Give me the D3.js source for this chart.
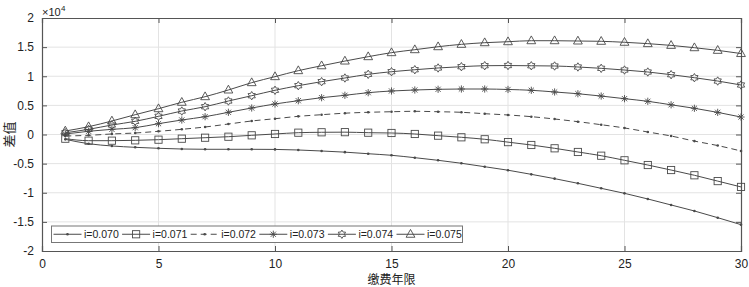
<!DOCTYPE html>
<html><head><meta charset="utf-8">
<script src="https://cdn.jsdelivr.net/npm/d3@7"></script>
<style>body{margin:0;background:#fff;} svg{display:block;}</style>
</head><body><svg id="c" width="749" height="287"></svg>
<script>
// Data (values in units of 10^4)
const years = d3.range(1, 31);
const s070 = [-0.083,-0.158,-0.197,-0.220,-0.237,-0.249,-0.254,-0.254,-0.254,-0.256,-0.266,-0.283,-0.303,-0.330,-0.357,-0.398,-0.443,-0.494,-0.553,-0.613,-0.684,-0.758,-0.838,-0.924,-1.010,-1.107,-1.210,-1.313,-1.428,-1.548];
const s071 = [-0.072,-0.106,-0.106,-0.100,-0.089,-0.072,-0.055,-0.038,-0.014,0.009,0.031,0.038,0.040,0.031,0.026,0.009,-0.020,-0.048,-0.082,-0.131,-0.180,-0.237,-0.300,-0.364,-0.443,-0.524,-0.610,-0.700,-0.800,-0.900];
const s072 = [-0.026,-0.014,0.009,0.026,0.055,0.089,0.129,0.180,0.232,0.271,0.312,0.340,0.366,0.381,0.391,0.398,0.391,0.381,0.357,0.335,0.306,0.266,0.220,0.168,0.112,0.043,-0.026,-0.113,-0.190,-0.283];
const s073 = [0.009,0.055,0.089,0.117,0.186,0.249,0.306,0.381,0.455,0.524,0.580,0.632,0.673,0.718,0.747,0.764,0.776,0.781,0.781,0.773,0.759,0.730,0.700,0.660,0.615,0.570,0.510,0.450,0.380,0.300];
const s074 = [0.030,0.089,0.163,0.226,0.312,0.403,0.477,0.575,0.666,0.759,0.838,0.907,0.970,1.033,1.078,1.112,1.142,1.164,1.181,1.184,1.180,1.176,1.159,1.136,1.107,1.073,1.027,0.975,0.918,0.850];
const s075 = [0.060,0.134,0.232,0.340,0.443,0.553,0.649,0.764,0.890,0.993,1.096,1.180,1.261,1.336,1.405,1.456,1.507,1.548,1.576,1.593,1.610,1.610,1.605,1.600,1.583,1.560,1.530,1.490,1.445,1.390];
const seriesNames = ["i=0.070","i=0.071","i=0.072","i=0.073","i=0.074","i=0.075"];
const seriesData = [s070, s071, s072, s073, s074, s075];
const markers = ["dot","square","dot","asterisk","hexagram","triangle"];
const dashes = [null, null, "6,4", null, null, null];
const xTicks = [0,5,10,15,20,25,30];
const yTicks = [-2,-1.5,-1,-0.5,0,0.5,1,1.5,2];

const svg = d3.select("#c");
const L = 42, R = 741, T = 18, B = 251;
const x = d3.scaleLinear().domain([0,30]).range([L,R]);
const y = d3.scaleLinear().domain([-2,2]).range([B,T]);
const col = "#4a4a4a";
const axisCol = "#555";
const font = "'Liberation Sans', Arial, sans-serif";

// grid
const g = svg.append("g");
g.selectAll(".gx").data(xTicks.slice(1,-1)).join("line")
  .attr("x1",d=>x(d)).attr("x2",d=>x(d)).attr("y1",T).attr("y2",B)
  .attr("stroke","#e3e3e3").attr("stroke-width",1);
g.selectAll(".gy").data(yTicks.slice(1,-1)).join("line")
  .attr("y1",d=>y(d)).attr("y2",d=>y(d)).attr("x1",L).attr("x2",R)
  .attr("stroke","#e3e3e3").attr("stroke-width",1);

// axes
const xa = svg.append("g").attr("transform",`translate(0,${B})`)
  .call(d3.axisBottom(x).tickValues(xTicks).tickSize(-5).tickPadding(8).tickFormat(d3.format("d")));
const xa2 = svg.append("g").attr("transform",`translate(0,${T})`)
  .call(d3.axisTop(x).tickValues(xTicks).tickSize(-5).tickFormat(""));
const ya = svg.append("g").attr("transform",`translate(${L},0)`)
  .call(d3.axisLeft(y).tickValues(yTicks).tickSize(-5).tickPadding(8).tickFormat(d=>d===0?"0":String(d)));
const ya2 = svg.append("g").attr("transform",`translate(${R},0)`)
  .call(d3.axisRight(y).tickValues(yTicks).tickSize(-5).tickFormat(""));
[xa,xa2,ya,ya2].forEach(a=>{
  a.selectAll("path").attr("stroke",axisCol).attr("stroke-width",1.2);
  a.selectAll("line").attr("stroke",axisCol);
  a.selectAll("text").attr("fill","#222").style("font-family",font).style("font-size","12px");
});

// symbols
function drawMarker(sel, type, cx, cy){
  const m = sel.append("g").attr("transform",`translate(${cx},${cy})`);
  if(type==="dot"){
    m.append("circle").attr("r",1.3).attr("fill",col);
  } else if(type==="square"){
    m.append("rect").attr("x",-3.6).attr("y",-3.6).attr("width",7.2).attr("height",7.2)
      .attr("fill","none").attr("stroke",col).attr("stroke-width",0.9);
  } else if(type==="asterisk"){
    const r=3.6, r2=2.6;
    m.append("path").attr("d",`M${-r},0L${r},0M0,${-r}L0,${r}M${-r2},${-r2}L${r2},${r2}M${-r2},${r2}L${r2},${-r2}`)
      .attr("stroke",col).attr("stroke-width",0.9);
  } else if(type==="hexagram"){
    const pts=[];
    for(let k=0;k<12;k++){const a=Math.PI/6*k - Math.PI/2; const rr = k%2===0?4.2:2.5; pts.push([rr*Math.cos(a), rr*Math.sin(a)]);}
    m.append("path").attr("d","M"+pts.map(p=>p.join(",")).join("L")+"Z")
      .attr("fill","none").attr("stroke",col).attr("stroke-width",0.9);
  } else if(type==="triangle"){
    m.append("path").attr("d","M0,-4.8L4.4,3L-4.4,3Z")
      .attr("fill","none").attr("stroke",col).attr("stroke-width",0.9);
  }
}

// curves
const line = d3.line().x((d,i)=>x(years[i])).y(d=>y(d)).curve(d3.curveMonotoneX);
const plot = svg.append("g");
seriesData.forEach((s,k)=>{
  plot.append("path").datum(s).attr("d",line).attr("fill","none")
    .attr("stroke",col).attr("stroke-width",1).attr("stroke-dasharray",dashes[k]);
  s.forEach((v,i)=>drawMarker(plot, markers[k], x(years[i]), y(v)));
});

// legend
const lg = svg.append("g");
const lx0 = 51.5, ly0 = 226, lh = 16.5;
const itemW = 68.6;
lg.append("rect").attr("x",lx0).attr("y",ly0).attr("width",411).attr("height",lh)
  .attr("fill","#fff").attr("stroke","#777").attr("stroke-width",1);
seriesNames.forEach((n,k)=>{
  const ix = lx0 + 2 + k*itemW, cy = ly0 + lh/2;
  lg.append("line").attr("x1",ix).attr("x2",ix+28).attr("y1",cy).attr("y2",cy)
    .attr("stroke",col).attr("stroke-width",1).attr("stroke-dasharray",dashes[k]);
  drawMarker(lg, markers[k], ix+14, cy);
  lg.append("text").attr("x",ix+30.5).attr("y",cy+4).text(n)
    .attr("fill","#222").style("font-family",font).style("font-size","10.5px");
});

// labels
svg.append("text").attr("x",42).attr("y",16).text("×10")
  .attr("fill","#222").style("font-family",font).style("font-size","11px");
svg.append("text").attr("x",61).attr("y",11).text("4")
  .attr("fill","#222").style("font-family",font).style("font-size","8px");
svg.append("text").attr("x",(L+R)/2).attr("y",284).attr("text-anchor","middle").text("缴费年限")
  .attr("fill","#222").style("font-family","'Noto Sans CJK SC', sans-serif").style("font-size","12px");
svg.append("text").attr("transform",`translate(14,${(T+B)/2}) rotate(-90)`).attr("text-anchor","middle").text("差值")
  .attr("fill","#222").style("font-family","'Noto Sans CJK SC', sans-serif").style("font-size","13px");
</script></body></html>
